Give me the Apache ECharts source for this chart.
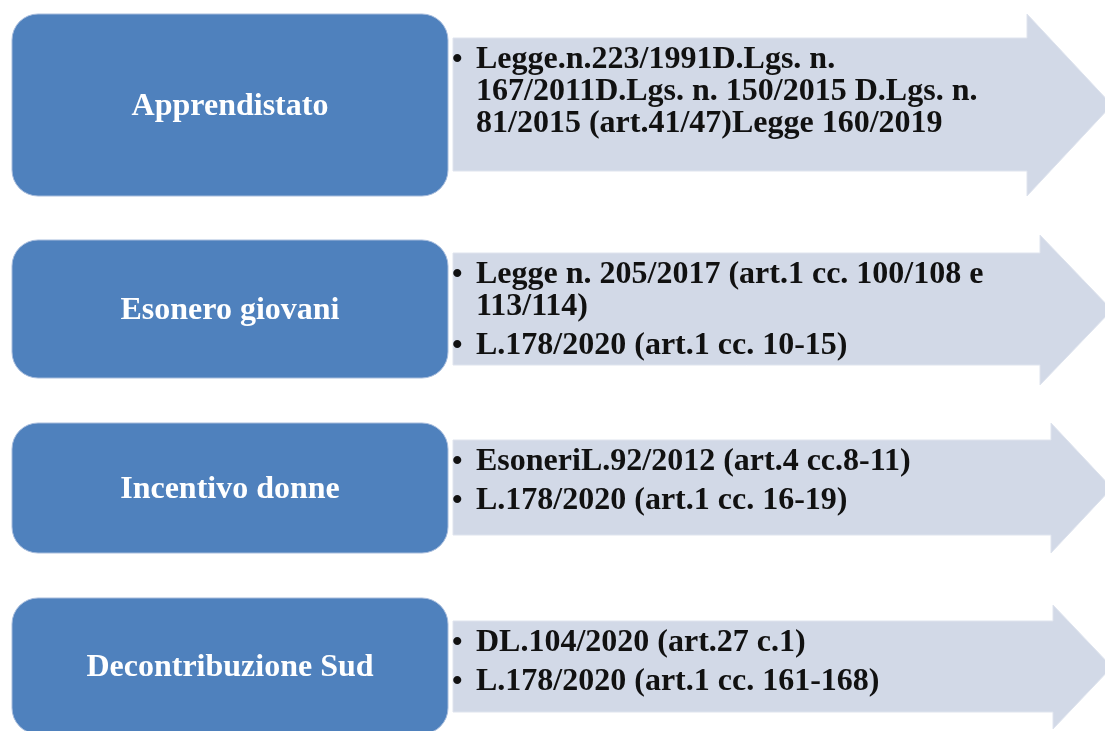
<!DOCTYPE html>
<html>
<head>
<meta charset="utf-8">
<script src="https://cdn.jsdelivr.net/npm/echarts@6/dist/echarts.min.js"></script>
<style>
html,body{margin:0;padding:0;background:#fff;}
#chart{width:1105px;height:731px;}
</style>
</head>
<body>
<div id="chart"></div>
<script>
// Row labels (blue boxes)
const labels = ['Apprendistato', 'Esonero giovani', 'Incentivo donne', 'Decontribuzione Sud'];
// Bullet items for each row; each item is a list of text lines
const items = [
  [['Legge.n.223/1991D.Lgs. n.', '167/2011D.Lgs. n. 150/2015 D.Lgs. n.', '81/2015 (art.41/47)Legge 160/2019']],
  [['Legge n. 205/2017 (art.1 cc. 100/108 e', '113/114)'], ['L.178/2020 (art.1 cc. 10-15)']],
  [['EsoneriL.92/2012 (art.4 cc.8-11)'], ['L.178/2020 (art.1 cc. 16-19)']],
  [['DL.104/2020 (art.27 c.1)'], ['L.178/2020 (art.1 cc. 161-168)']]
];
// Vertical extents of each row (in axis units)
const boxTop = [14, 240, 423, 598];
const boxBottom = [196, 378, 553, 734];
const bodyTop = [38, 253, 440, 621];
const bodyBottom = [171, 365, 535, 712];
const headTop = [14, 235, 423, 605];
const headBottom = [196, 385, 553, 729];
const headStart = [1027, 1040, 1051, 1053];
// Horizontal extents
const boxSpan = [12, 448];
const arrowSpan = [453, 1112];

const chart = echarts.init(document.getElementById('chart'), null, {renderer: 'canvas'});

const seriesData = labels.map((l, i) => [i, boxTop[i], boxBottom[i], bodyTop[i], bodyBottom[i], headTop[i], headBottom[i], headStart[i]]);

const FONT = "'Liberation Serif', 'DejaVu Serif', serif";

function renderItem(params, api) {
  const i = api.value(0);
  const bT = api.value(1), bB = api.value(2);
  const yT = api.value(3), yB = api.value(4);
  const hT = api.value(5), hB = api.value(6), hX = api.value(7);
  const midY = (hT + hB) / 2;
  const c = (x, y) => api.coord([x, y]);
  const children = [];
  // arrow
  children.push({
    type: 'polygon',
    shape: {points: [
      c(arrowSpan[0], yT), c(hX, yT), c(hX, hT), c(arrowSpan[1], midY),
      c(hX, hB), c(hX, yB), c(arrowSpan[0], yB)
    ]},
    style: {fill: '#d2d9e7', stroke: '#dfe4ee', lineWidth: 1}
  });
  // box
  const p0 = c(boxSpan[0], bT), p1 = c(boxSpan[1], bB);
  children.push({
    type: 'rect',
    shape: {x: p0[0], y: p0[1], width: p1[0] - p0[0], height: p1[1] - p0[1], r: 26},
    style: {fill: '#4f81bd', stroke: '#a7bcdc', lineWidth: 1}
  });
  const lp = c((boxSpan[0] + boxSpan[1]) / 2, (bT + bB) / 2 + 2);
  children.push({
    type: 'text',
    style: {text: labels[i], x: lp[0], y: lp[1], align: 'center', verticalAlign: 'middle',
      fill: '#ffffff', fontFamily: FONT, fontWeight: 'bold', fontSize: 32}
  });
  // bullet texts
  let lineCount = 0;
  items[i].forEach((item, j) => {
    item.forEach((line, k) => {
      const ly = yT + 22 + 32 * lineCount + 7 * j;
      const tp = c(476, ly);
      if (k === 0) {
        const bp = c(452, ly);
        children.push({type: 'text', style: {text: '•', x: bp[0], y: bp[1], align: 'left', verticalAlign: 'middle',
          fill: '#111', fontFamily: FONT, fontWeight: 'bold', fontSize: 30}});
      }
      children.push({type: 'text', style: {text: line, x: tp[0], y: tp[1], align: 'left', verticalAlign: 'middle',
        fill: '#111', fontFamily: FONT, fontWeight: 'bold', fontSize: 32}});
      lineCount++;
    });
  });
  return {type: 'group', children: children};
}

chart.setOption({
  animation: false,
  grid: {left: 0, right: 0, top: 0, bottom: 0},
  xAxis: {type: 'value', min: 0, max: 1105, show: false},
  yAxis: {type: 'value', min: 0, max: 731, inverse: true, show: false},
  series: [{
    type: 'custom',
    renderItem: renderItem,
    data: seriesData,
    clip: true
  }]
});
</script>
</body>
</html>
